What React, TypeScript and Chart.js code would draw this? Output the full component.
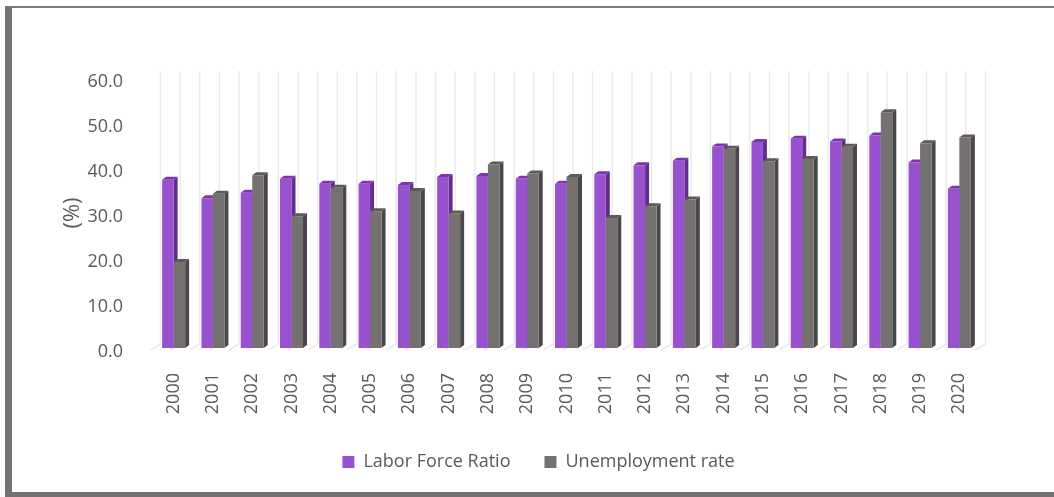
import React, { useEffect, useRef } from "react";
import { Chart, registerables } from "chart.js";

Chart.register(...registerables);

const years = [
  "2000", "2001", "2002", "2003", "2004", "2005", "2006", "2007", "2008", "2009", "2010",
  "2011", "2012", "2013", "2014", "2015", "2016", "2017", "2018", "2019", "2020",
];
const laborForceRatio = [
  37.4, 33.3, 34.5, 37.6, 36.5, 36.5, 36.2, 38.0, 38.2, 37.6, 36.5,
  38.6, 40.6, 41.6, 44.8, 45.8, 46.5, 45.9, 47.2, 41.2, 35.4,
];
const unemploymentRate = [
  19.1, 34.3, 38.4, 29.3, 35.6, 30.4, 34.9, 29.9, 40.8, 38.8, 38.0,
  28.9, 31.5, 33.0, 44.3, 41.5, 42.0, 44.7, 52.4, 45.5, 46.8,
];
const seriesNames = ["Labor Force Ratio", "Unemployment rate"];
const yMin = 0;
const yMax = 60;
const yStep = 10;

const FRONT = ["#9852CD", "#767171"];
const TOP = ["#7A36AC", "#5D5959"];
const SIDE = ["#652C90", "#4B4747"];
const TEXT = "#595959";
const FONT = "'Open Sans', sans-serif";

const DX = 4;
const DY = 3;
const LEGEND_SHIFT = 24;

const depthPlugin = {
  id: "depth3d",
  afterLayout(chart: any) {
    const lg = chart.legend;
    if (lg) {
      lg.left += LEGEND_SHIFT;
      lg.right += LEGEND_SHIFT;
    }
  },
  beforeDatasetsDraw(chart: any) {
    const ctx = chart.ctx;
    const xs = chart.scales.x;
    const ys = chart.scales.y;
    const half = (xs.getPixelForTick(1) - xs.getPixelForTick(0)) / 2;
    const start = xs.getPixelForTick(0) - half;
    const top = ys.getPixelForValue(yMax) - 7;
    const bottom = ys.getPixelForValue(yMin) - 4;
    ctx.save();
    ctx.strokeStyle = "#ebebeb";
    ctx.lineWidth = 1.5;
    const n = chart.data.labels.length * 2;
    for (let k = 0; k <= n; k++) {
      const gx = start + k * half + 6.5;
      ctx.beginPath();
      ctx.moveTo(gx, top);
      ctx.lineTo(gx, bottom);
      ctx.lineTo(gx - 10, bottom + 6);
      ctx.stroke();
    }
    chart.data.datasets.forEach((_ds: any, di: number) => {
      const meta = chart.getDatasetMeta(di);
      meta.data.forEach((bar: any) => {
        const { x, y, base, width } = bar.getProps(["x", "y", "base", "width"], true);
        const l = x - width / 2;
        const r = x + width / 2;
        ctx.fillStyle = SIDE[di];
        ctx.beginPath();
        ctx.moveTo(r, y);
        ctx.lineTo(r + DX, y - DY);
        ctx.lineTo(r + DX, base - DY);
        ctx.lineTo(r, base);
        ctx.closePath();
        ctx.fill();
        ctx.fillStyle = TOP[di];
        ctx.beginPath();
        ctx.moveTo(l, y);
        ctx.lineTo(l + DX, y - DY);
        ctx.lineTo(r + DX, y - DY);
        ctx.lineTo(r, y);
        ctx.closePath();
        ctx.fill();
      });
    });
    ctx.restore();
  },
};

export default function App() {
  const ref = useRef<HTMLCanvasElement>(null);

  useEffect(() => {
    if (!ref.current) return;
    const chart = new Chart(ref.current, {
      type: "bar",
      data: {
        labels: years,
        datasets: [
          {
            label: seriesNames[0],
            data: laborForceRatio,
            backgroundColor: FRONT[0],
            borderWidth: 0,
            categoryPercentage: 0.585,
            barPercentage: 1,
          },
          {
            label: seriesNames[1],
            data: unemploymentRate,
            backgroundColor: FRONT[1],
            borderWidth: 0,
            categoryPercentage: 0.585,
            barPercentage: 1,
          },
        ],
      },
      options: {
        responsive: false,
        animation: false,
        devicePixelRatio: 1,
        layout: { padding: { left: 50, right: 75, top: 78, bottom: 16 } },
        plugins: {
          legend: {
            position: "bottom",
            labels: {
              boxWidth: 12,
              boxHeight: 12,
              padding: 34,
              color: TEXT,
              font: { family: FONT, size: 18 },
            },
          },
          tooltip: { enabled: false },
        },
        scales: {
          x: {
            grid: { display: false },
            border: { display: false },
            ticks: {
              minRotation: 90,
              maxRotation: 90,
              autoSkip: false,
              padding: 17,
              color: TEXT,
              font: { family: FONT, size: 18 },
            },
            afterFit: (s: any) => {
              s.height = 71;
            },
          },
          y: {
            min: yMin,
            max: yMax,
            grid: { display: false },
            border: { display: false },
            ticks: {
              stepSize: yStep,
              padding: 23,
              labelOffset: 4,
              color: TEXT,
              font: { family: FONT, size: 18 },
              callback: (v: any) => Number(v).toFixed(1),
            },
            title: {
              display: true,
              text: "(%)",
              color: TEXT,
              font: { family: FONT, size: 22 },
              padding: { top: 10, bottom: 0 },
            },
            afterFit: (s: any) => {
              s.width = 104;
            },
          },
        },
      },
      plugins: [depthPlugin],
    } as any);
    return () => chart.destroy();
  }, []);

  return (
    <div
      style={{
        position: "fixed",
        left: 0,
        top: 0,
        width: 1054,
        height: 497,
        overflow: "hidden",
        background: "#ffffff",
      }}
    >
      <div
        style={{
          position: "absolute",
          left: 5,
          top: 6,
          width: 1049,
          height: 491,
          boxSizing: "border-box",
          borderLeft: "7px solid #767171",
          borderTop: "2px solid #7f7b7b",
          borderBottom: "5px solid #767171",
        }}
      />
      <canvas
        ref={ref}
        width={1054}
        height={497}
        style={{ position: "absolute", left: 0, top: 0, width: 1054, height: 497 }}
      />
    </div>
  );
}
